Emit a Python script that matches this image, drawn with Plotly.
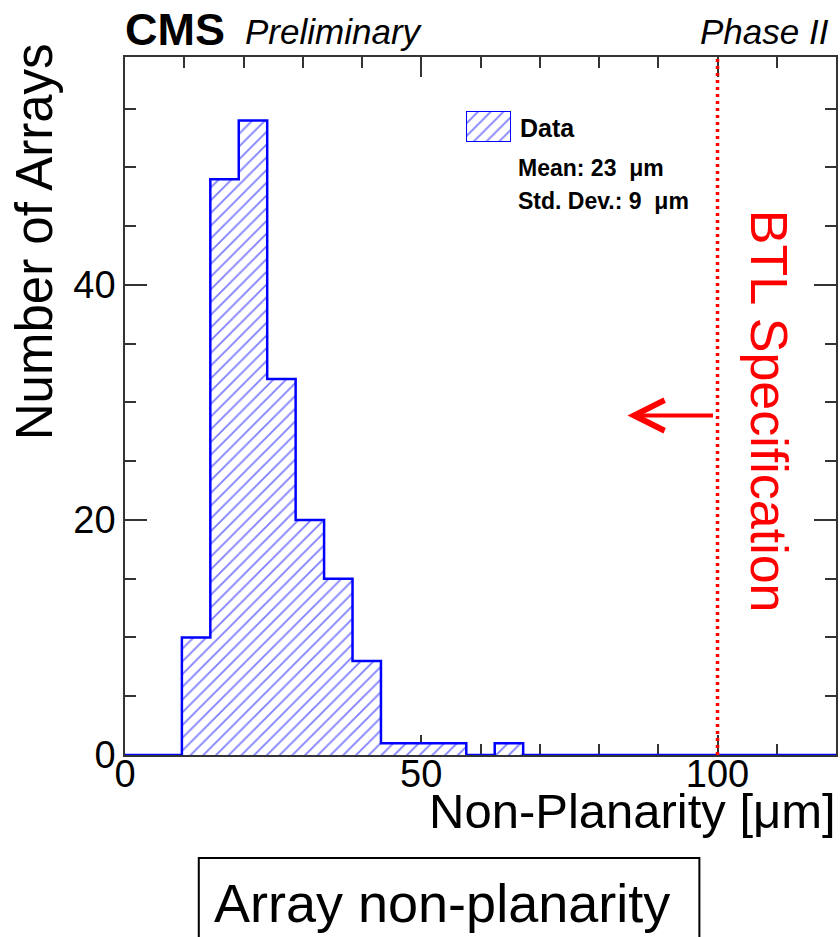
import plotly.graph_objects as go

# ---------------- data ----------------
X_MIN, X_MAX = 0.0, 120.0
BIN_WIDTH = 4.8
counts = [0, 0, 10, 49, 54, 32, 20, 15, 8, 1, 1, 1, 0, 1,
          0, 0, 0, 0, 0, 0, 0, 0, 0, 0, 0]
bin_edges = [round(X_MIN + i * BIN_WIDTH, 3) for i in range(len(counts) + 1)]
bin_centers = [(a + b) / 2 for a, b in zip(bin_edges[:-1], bin_edges[1:])]
Y_MAX = 59.4
spec_limit = 100
mean_um = 23
std_um = 9
x_ticks = [0, 50, 100]
y_ticks = [0, 20, 40]

# ---------------- layout helpers ----------------
W, H = 840, 937
PL, PR, PT, PB = 125, 838, 57, 755
FONT = "Liberation Sans, Arial, Helvetica, sans-serif"
BLUE = "#0000ff"
RED = "#ff0000"
AX = "#333333"
NB = "\u00a0"


def px(xp):
    return (xp - PL) / (PR - PL)


def py(yp):
    return (PB - yp) / (PB - PT)


fig = go.Figure()

hatch = dict(shape="/", fgcolor=BLUE, bgcolor="white", size=9, solidity=0.2)

# hatched histogram fill
fig.add_trace(go.Bar(
    x=bin_centers, y=counts, width=BIN_WIDTH,
    marker=dict(color="white", line=dict(width=0), pattern=hatch),
    showlegend=False, hoverinfo="skip",
))

# histogram outline (step)
fig.add_trace(go.Scatter(
    x=bin_edges, y=counts + [counts[-1]], mode="lines",
    line=dict(color=BLUE, width=2.5, shape="hv"),
    showlegend=False, hoverinfo="skip", cliponaxis=False,
))

# legend swatch in its own tiny axes
fig.add_trace(go.Bar(
    x=[0], y=[1], width=1, xaxis="x2", yaxis="y2",
    marker=dict(color="white", line=dict(color=BLUE, width=2), pattern=hatch),
    showlegend=False, hoverinfo="skip",
))

axis_common = dict(
    showline=True, linecolor=AX, linewidth=1.5, mirror="allticks",
    ticks="inside", tickcolor=AX, tickwidth=1.5, showgrid=False,
    zeroline=False, tickfont=dict(family=FONT, size=38, color="black"),
    layer="below traces",
)

fig.update_layout(
    width=W, height=H,
    margin=dict(l=PL, r=W - PR, t=PT, b=H - PB),
    paper_bgcolor="white", plot_bgcolor="white",
    bargap=0, showlegend=False,
    xaxis=dict(range=[X_MIN, X_MAX], tickvals=x_ticks, ticklen=20,
               ticklabelstandoff=-15,
               minor=dict(dtick=10, tick0=0, ticklen=11, ticks="inside",
                          tickcolor=AX, tickwidth=1.5, showgrid=False),
               **axis_common),
    yaxis=dict(range=[0, Y_MAX], tickvals=y_ticks, ticklen=22,
               minor=dict(dtick=5, tick0=0, ticklen=11, ticks="inside",
                          tickcolor=AX, tickwidth=1.5, showgrid=False),
               **axis_common),
    xaxis2=dict(domain=[px(467), px(512)], range=[-0.5, 0.5], anchor="y2",
                visible=False, fixedrange=True),
    yaxis2=dict(domain=[py(142), py(111)], range=[0, 1], anchor="x2",
                visible=False, fixedrange=True),
)

annotations = [
    dict(text="<b>CMS</b>", x=px(123), y=py(30), xanchor="left", yanchor="middle",
         font=dict(family=FONT, size=45, color="black")),
    dict(text="<i>Preliminary</i>", x=px(243), y=py(31), xanchor="left", yanchor="middle",
         font=dict(family=FONT, size=35, color="black")),
    dict(text="<i>Phase II</i>", x=px(833), y=py(31), xanchor="right", yanchor="middle",
         font=dict(family=FONT, size=35, color="black")),
    dict(text="Number of Arrays", x=px(34), y=py(242), textangle=-90,
         xanchor="center", yanchor="middle",
         font=dict(family=FONT, size=51, color="black")),
    dict(text="Non-Planarity [μm]", x=px(840), y=py(811), xanchor="right", yanchor="middle",
         font=dict(family=FONT, size=49, color="black")),
    dict(text="BTL Specification", x=px(771), y=py(411), textangle=90,
         xanchor="center", yanchor="middle",
         font=dict(family=FONT, size=52, color=RED)),
    dict(text="<b>Data</b>", x=px(519), y=py(128), xanchor="left", yanchor="middle",
         font=dict(family=FONT, size=25, color="black")),
    dict(text=f"<b>Mean: {mean_um}{NB} μm</b>", x=px(517), y=py(168), xanchor="left",
         yanchor="middle", font=dict(family=FONT, size=23, color="black")),
    dict(text=f"<b>Std. Dev.: {std_um}{NB} μm</b>", x=px(517), y=py(201), xanchor="left",
         yanchor="middle", font=dict(family=FONT, size=23, color="black")),
    dict(text="Array non-planarity", x=px(443), y=py(903), xanchor="center", yanchor="middle",
         font=dict(family=FONT, size=54, color="black")),
]
for a in annotations:
    a.setdefault("xref", "paper")
    a.setdefault("yref", "paper")
    a.setdefault("showarrow", False)

# arrow pointing left from the spec line
annotations.append(dict(
    x=spec_limit - 15.2, y=28.9, ax=spec_limit - 0.5, ay=28.9,
    xref="x", yref="y", axref="x", ayref="y", text="",
    showarrow=True, arrowhead=5, arrowsize=1.5, arrowwidth=4, arrowcolor=RED,
))
fig.update_layout(annotations=annotations)

# spec line and caption box
fig.add_shape(type="line", x0=spec_limit, x1=spec_limit, y0=0, y1=1,
              xref="x", yref="paper",
              line=dict(color=RED, width=3.5, dash="3px,4px"))
fig.add_shape(type="rect", x0=px(199), x1=px(701), y0=py(858), y1=py(960),
              xref="paper", yref="paper", line=dict(color="black", width=2))

fig.write_html("out.html")
